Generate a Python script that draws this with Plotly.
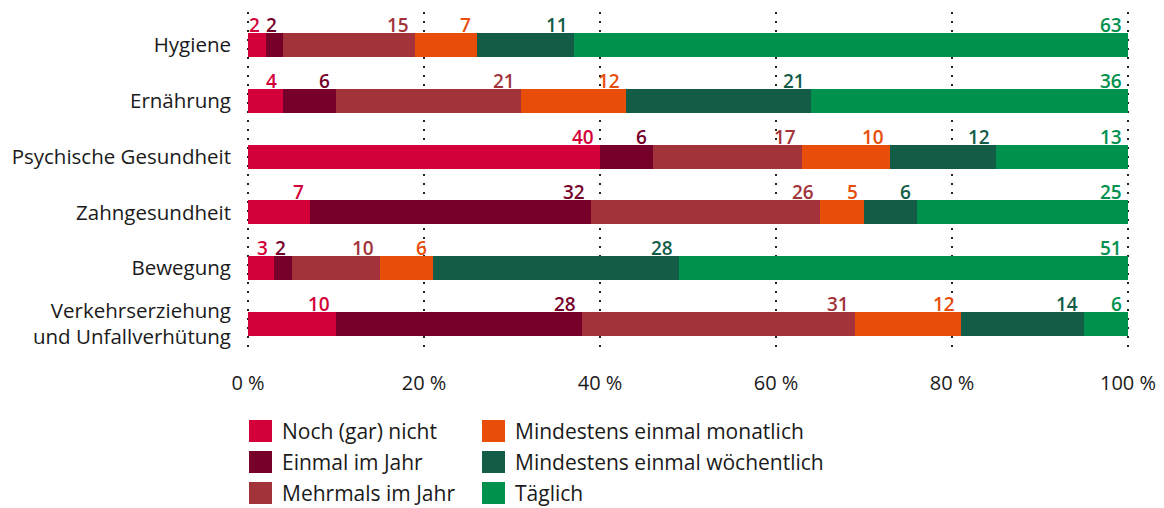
import plotly.graph_objects as go

# ---------------- data ----------------
categories = ["Hygiene", "Ernährung", "Psychische Gesundheit", "Zahngesundheit",
              "Bewegung", "Verkehrserziehung<br>und Unfallverhütung"]
series_names = ["Noch (gar) nicht", "Einmal im Jahr", "Mehrmals im Jahr",
                "Mindestens einmal monatlich", "Mindestens einmal wöchentlich", "Täglich"]
colors = ["#D4003A", "#76002A", "#A3333A", "#E84E0A", "#135C47", "#00914F"]

noch_nicht = [2, 4, 40, 7, 3, 10]
einmal_jahr = [2, 6, 6, 32, 2, 28]
mehrmals_jahr = [15, 21, 17, 26, 10, 31]
monatlich = [7, 12, 10, 5, 6, 12]
woechentlich = [11, 21, 12, 6, 28, 14]
taeglich = [63, 36, 15, 24, 51, 5]          # drawn bar lengths
taeglich_labels = [63, 36, 13, 25, 51, 6]   # numbers printed in the chart

series_values = [noch_nicht, einmal_jahr, mehrmals_jahr, monatlich, woechentlich, taeglich]
series_labels = [noch_nicht, einmal_jahr, mehrmals_jahr, monatlich, woechentlich, taeglich_labels]

x_tickvals = [0, 20, 40, 60, 80, 100]
x_ticktext = ["0 %", "20 %", "40 %", "60 %", "80 %", "100 %"]

# ---------------- layout geometry ----------------
PAGE_OFF = 8                      # default body margin of the html page
W, H = 1164 - PAGE_OFF, 508 - PAGE_OFF
ML, MR, MT, MB = 238, 34, 4, 161
PW, PH = W - ML - MR, H - MT - MB
px_per_unit = 8.8
pad = (PW / px_per_unit - 100) / 2
y_range = [5.412, -0.5914]

FONT = "Open Sans"
TEXT = "#1a1a1a"

fig = go.Figure()
ycat = list(range(len(categories)))
for name, vals, col in zip(series_names, series_values, colors):
    fig.add_trace(go.Bar(
        y=ycat, x=vals, name=name, orientation="h",
        marker=dict(color=col, line=dict(width=0)),
        width=0.43, showlegend=False, hoverinfo="x+name",
    ))

# value labels above the right end of each segment
annotations = []
cum = [0] * len(categories)
for vals, labs, col in zip(series_values, series_labels, colors):
    for i, (v, lab) in enumerate(zip(vals, labs)):
        cum[i] += v
        annotations.append(dict(
            x=cum[i], y=i, xref="x", yref="y", text=str(lab),
            showarrow=False, xanchor="right", yanchor="bottom",
            xshift=-4, yshift=5,
            font=dict(family=FONT, size=19, color=col, weight=600),
        ))

# manual two-column legend (positions given in page pixels)
def px_to_paper_x(px):
    return (px - PAGE_OFF - ML) / PW

def px_to_paper_y(py):
    return (H - MB - (py - PAGE_OFF)) / PH

shapes = []
col_x = [249, 482]
row_top = [420, 451, 482]
for k, (name, col) in enumerate(zip(series_names, colors)):
    c, r = divmod(k, 3)
    x0 = col_x[c]
    y0 = row_top[r]
    shapes.append(dict(
        type="rect", xref="paper", yref="paper",
        x0=px_to_paper_x(x0), x1=px_to_paper_x(x0 + 23),
        y0=px_to_paper_y(y0 + 22), y1=px_to_paper_y(y0),
        fillcolor=col, line=dict(width=0), layer="above",
    ))
    annotations.append(dict(
        x=px_to_paper_x(x0 + 32), y=px_to_paper_y(y0 + 11),
        xref="paper", yref="paper", text=name, showarrow=False,
        xanchor="left", yanchor="middle", borderpad=0,
        font=dict(family=FONT, size=21, color=TEXT),
    ))

fig.update_layout(
    width=W, height=H,
    margin=dict(l=ML, r=MR, t=MT, b=MB, pad=0),
    barmode="stack",
    plot_bgcolor="white", paper_bgcolor="white",
    font=dict(family=FONT, size=20, color=TEXT),
    annotations=annotations, shapes=shapes,
    showlegend=False,
)
fig.update_xaxes(
    range=[-pad, 100 + pad], tickvals=x_tickvals, ticktext=x_ticktext,
    showgrid=True, gridcolor="#222222", gridwidth=1.6, griddash="2px,7px",
    zeroline=False, showline=False, ticks="",
    ticklabelstandoff=22, tickfont=dict(family=FONT, size=20, color=TEXT),
)
fig.update_yaxes(
    type="linear", range=y_range, tickvals=ycat, ticktext=categories,
    showgrid=False, zeroline=False, showline=False, ticks="",
    ticklabelstandoff=14, tickfont=dict(family=FONT, size=20.5, color=TEXT),
)

fig.write_html("out.html")
